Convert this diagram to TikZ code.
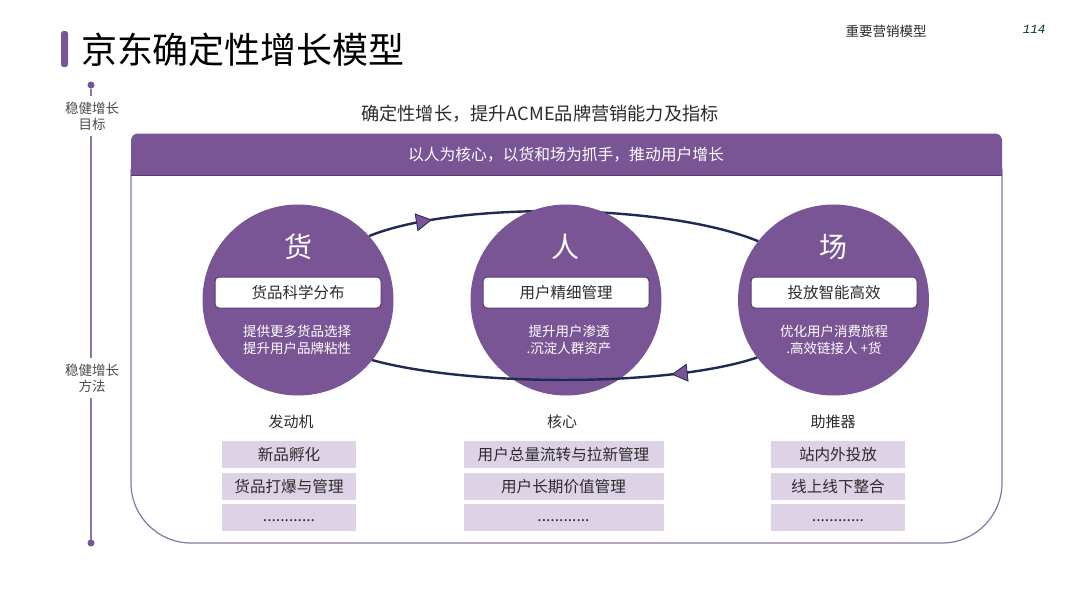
\documentclass[tikz,border=0pt]{standalone}
\usepackage{fontspec}
\setmainfont{Noto Sans CJK SC}
\newfontfamily\numfont{Liberation Mono}
\usetikzlibrary{arrows.meta,decorations.markings}
\pgfdeclarelayer{behind}
\pgfsetlayers{behind,main}
\definecolor{plum}{HTML}{7A5595}
\definecolor{plumdark}{HTML}{553A6E}
\definecolor{plumline}{HTML}{8D74A5}
\definecolor{lilac}{HTML}{DED3E6}
\definecolor{navy}{HTML}{1F2A52}
\definecolor{inkc}{HTML}{2B2B2B}
\newcommand{\lowdots}{\smash{\raisebox{-4pt}{............}}}
\tikzset{
  x=1pt,y=-1pt,
  every node/.style={inner sep=0pt,outer sep=0pt,text=inkc,align=center},
  hub/.style={circle,fill=plum,minimum size=191pt},
  hubtitle/.style={text=white,font=\fontsize{28}{28}\selectfont},
  pill/.style={draw=plumdark,line width=1pt,fill=white,rounded corners=4pt,minimum height=31pt,minimum width=166pt,font=\fontsize{15.5}{15.5}\selectfont},
  hubnote/.style={text=white,font=\fontsize{13.5}{17}\selectfont},
  rolelabel/.style={font=\fontsize{15}{15}\selectfont},
  tag/.style={fill=lilac,minimum height=27pt,minimum width=134pt,font=\fontsize{15.6}{15.6}\selectfont},
  widetag/.style={tag,minimum width=200pt},
  axislabel/.style={minimum height=40pt,text=black!70,font=\fontsize{13.5}{16}\selectfont},
  axisline/.style={draw=plumline,line width=1.1pt},
  ring/.style={draw=navy,line width=2.4pt},
  ringflow/.style={postaction={decorate},decoration={markings,mark=at position #1 with {\arrow{Triangle[length=16pt,width=18pt,fill=plum,line width=.8pt]}}}},
  dotc/.style={circle,fill=plum,minimum size=7pt},
}
\begin{document}
\begin{tikzpicture}
\useasboundingbox (0,0) rectangle (1080,608);
\begin{pgfonlayer}{behind}
\fill[white] (0,0) rectangle (1080,608);
% panel outline and band
\draw[plumline,line width=1.2pt,fill=white,rounded corners=60pt] (131,170) -- (131,543) -- (1002,543) [rounded corners=0pt] -- (1002,170) -- cycle;
\fill[plum,rounded corners=7pt] (131,175) [rounded corners=0pt] -- (131,175) [rounded corners=7pt] -- (131,133.5) -- (1002,133.5) [rounded corners=0pt] -- (1002,175) -- cycle;
\draw[plumdark,line width=1pt] (131,175) -- (1002,175);
\end{pgfonlayer}
% title
\fill[plum,rounded corners=2.5pt] (61,31) rectangle (68,67);
\node[anchor=west,text=black,font=\fontsize{36}{36}\selectfont] (title) at (81,50) {京东确定性增长模型};
\node[font=\fontsize{13.5}{13.5}\selectfont] (section) at (886,31) {重要营销模型};
\node[text=black!60!teal,font=\fontsize{12.5}{12.5}\numfont\itshape] (page) at (1034,29) {114};
% left axis
\node[dotc] (top) at (91,85) {};
\node[dotc] (bot) at (91,543) {};
\node[axislabel] (goal) at (92,116) {稳健增长\\目标};
\node[axislabel] (method) at (92,378) {稳健增长\\方法};
\draw[axisline] (top) -- (goal.north -| top);
\draw[axisline] (goal.south -| top) -- (method.north -| top);
\draw[axisline] (method.south -| top) -- (bot);
% heading and band text
\node[font=\fontsize{18.2}{18.2}\selectfont] (head) at (540,114) {确定性增长，提升ACME品牌营销能力及指标};
\node[text=white,font=\fontsize{15.8}{15.8}\selectfont] (band) at (566,155) {以人为核心，以货和场为抓手，推动用户增长};
% hubs
\node[hub] (huo) at (298,300) {};
\node[hub] (ren) at (566,300) {};
\node[hub] (chang) at (833.5,300) {};
\begin{pgfonlayer}{behind}
\draw[ring,ringflow=0.165] (huo.42) .. controls (455,201) and (665,203) .. (chang.142.5);
\end{pgfonlayer}
\draw[ring,ringflow=0.225] (chang.-143.8) .. controls (670,387) and (470,387) .. (huo.-39);
\node[hubtitle] (huot) at (298,247) {货};
\node[hubtitle] (rent) at (565,247) {人};
\node[hubtitle] (changt) at (833,247) {场};
\node[pill] (huop) at (298,292.5) {货品科学分布};
\node[pill] (renp) at (566,292.5) {用户精细管理};
\node[pill] (changp) at (834,292.5) {投放智能高效};
\node[hubnote] (huon) at (297,339.5) {提供更多货品选择\\提升用户品牌粘性};
\node[hubnote] (renn) at (569,339.5) {提升用户渗透\\.沉淀人群资产};
\node[hubnote] (changn) at (834,339.5) {优化用户消费旅程\\.高效链接人 +货};
% roles
\node[rolelabel] (r1) at (291,421.5) {发动机};
\node[rolelabel] (r2) at (562,421.5) {核心};
\node[rolelabel] (r3) at (833,421.5) {助推器};
% tags
\node[tag] (a1) at (289,454.5) {新品孵化};
\node[tag] (a2) at (289,486.5) {货品打爆与管理};
\node[tag] (a3) at (289,517.5) {\lowdots};
\node[widetag] (b1) at (563.5,454.5) {用户总量流转与拉新管理};
\node[widetag] (b2) at (563.5,486.5) {用户长期价值管理};
\node[widetag] (b3) at (563.5,517.5) {\lowdots};
\node[tag] (c1) at (838,454.5) {站内外投放};
\node[tag] (c2) at (838,486.5) {线上线下整合};
\node[tag] (c3) at (838,517.5) {\lowdots};
\end{tikzpicture}
\end{document}
